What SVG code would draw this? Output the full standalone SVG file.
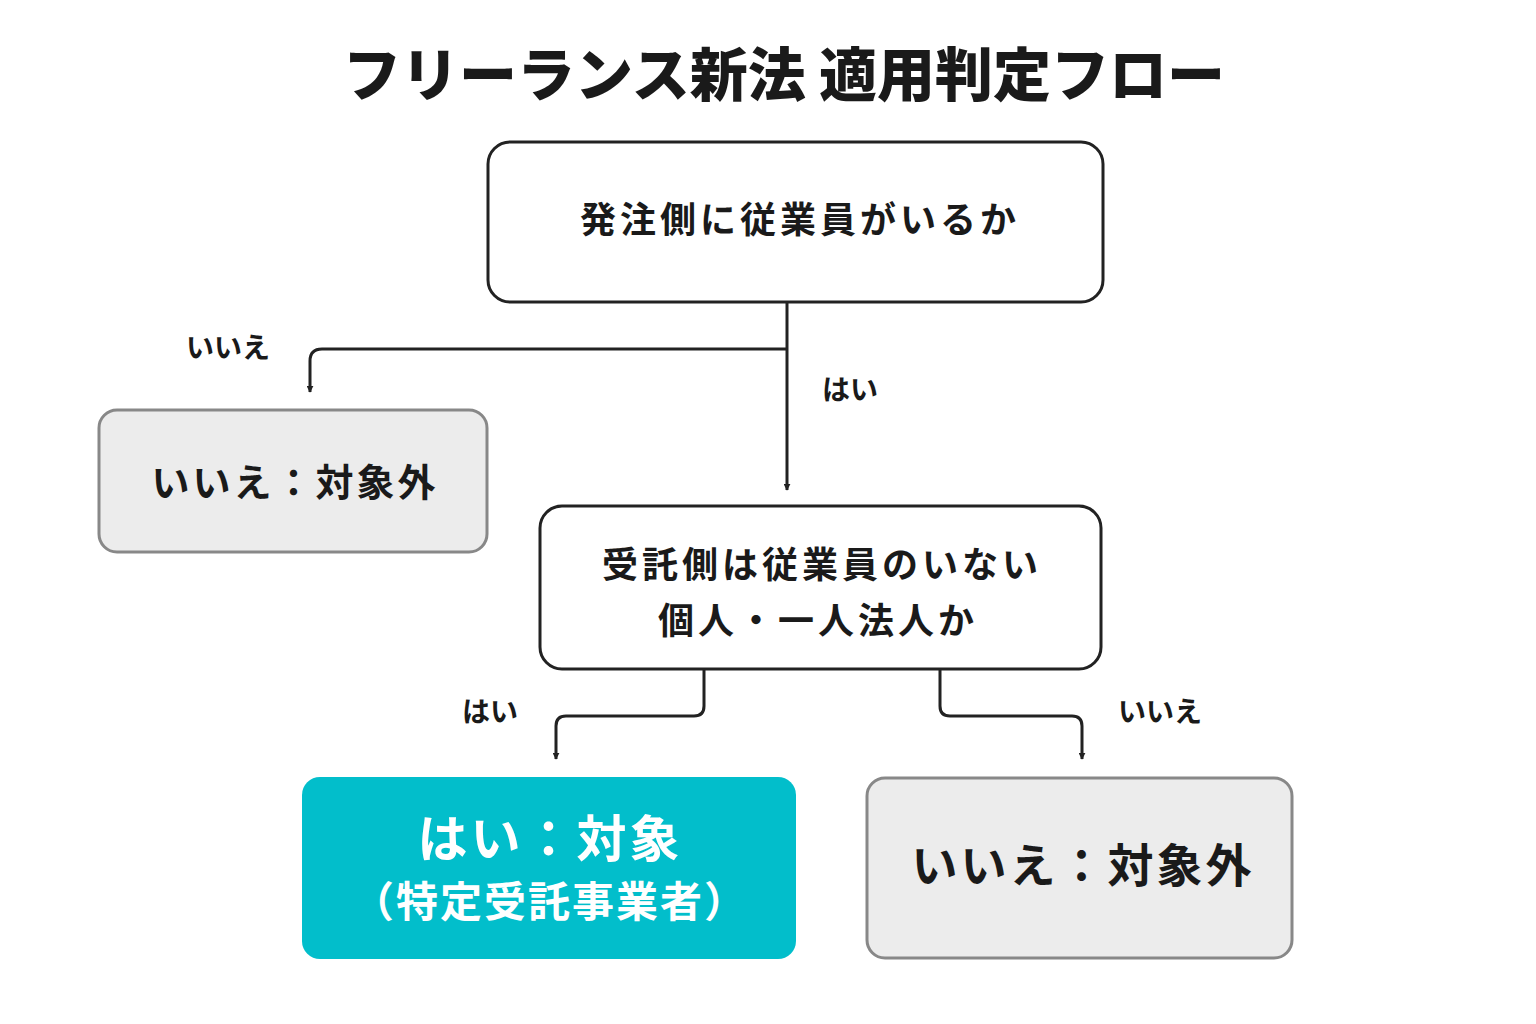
<svg xmlns="http://www.w3.org/2000/svg" width="1536" height="1024" viewBox="0 0 1536 1024">
<defs>
<style>
text{font-family:"Noto Sans CJK JP","Noto Sans",sans-serif;font-weight:bold;fill:#1a1a1a;text-anchor:middle}
.w{fill:#fff;stroke:#222;stroke-width:3}
.g{fill:#ececec;stroke:#888;stroke-width:3}
.c{fill:none;stroke:#222;stroke-width:3}
.l{font-size:28px}
</style>
<marker id="a" viewBox="0 0 10 10" refX="9" refY="5" markerWidth="7" markerHeight="7" markerUnits="userSpaceOnUse" orient="auto"><path d="M0,0L10,5L0,10z" fill="#222"/></marker>
</defs>
<rect width="1536" height="1024" fill="#fff"/>
<text x="784" y="96" font-size="58" style="font-weight:900">フリーランス新法 適用判定フロー</text>
<g id="connectors">
<path class="c" d="M787,302V490" marker-end="url(#a)" style="stroke-width:3" transform="translate(0,0)"/>
<path class="c" d="M787,349H322Q310,349 310,361V392" marker-end="url(#a)"/>
<path class="c" d="M704,669V706Q704,716 694,716H566Q556,716 556,726V759" marker-end="url(#a)"/>
<path class="c" d="M940,669V706Q940,716 950,716H1072Q1082,716 1082,726V759" marker-end="url(#a)"/>
<text class="l" x="228" y="358">いいえ</text>
<text class="l" x="850" y="400">はい</text>
<text class="l" x="490" y="722">はい</text>
<text class="l" x="1160" y="722">いいえ</text>
</g>
<g id="q1"><rect class="w" x="488" y="142" width="615" height="160" rx="22"/><text x="800" y="233" font-size="36" letter-spacing="4">発注側に従業員がいるか</text></g>
<g id="n1"><rect class="g" x="99" y="410" width="388" height="142" rx="18"/><text x="295" y="496" font-size="38" letter-spacing="3">いいえ：対象外</text></g>
<g id="q2"><rect class="w" x="540" y="506" width="561" height="163" rx="22"/><text x="822" y="578" font-size="36" letter-spacing="4">受託側は従業員のいない</text><text x="818" y="634" font-size="36" letter-spacing="4">個人・一人法人か</text></g>
<g id="y2"><rect x="302" y="777" width="494" height="182" rx="18" fill="#02BECB"/><text x="550" y="857" font-size="50" fill="#fff" style="fill:#fff" letter-spacing="3">はい：対象</text><text x="550" y="917" font-size="42" style="fill:#fff" letter-spacing="2">（特定受託事業者）</text></g>
<g id="n2"><rect class="g" x="867" y="778" width="425" height="180" rx="18"/><text x="1083" y="882" font-size="46" letter-spacing="3">いいえ：対象外</text></g>
</svg>
